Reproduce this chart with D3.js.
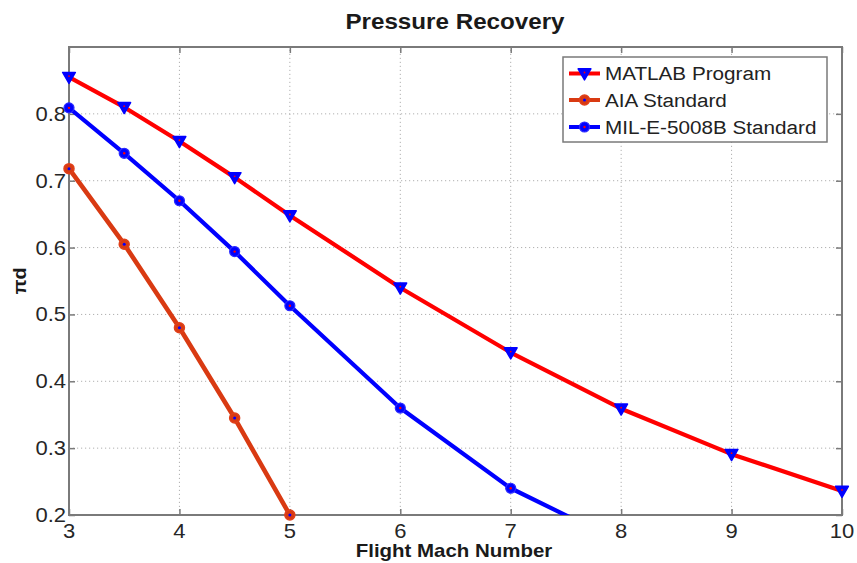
<!DOCTYPE html>
<html>
<head>
<meta charset="utf-8">
<script src="https://cdn.jsdelivr.net/npm/d3@7"></script>
<style>
  html, body { margin: 0; padding: 0; background: #fff; }
  svg { display: block; }
  text { font-family: "Liberation Sans", Arial, sans-serif; fill: #1a1a1a; }
</style>
</head>
<body>
<svg id="chart" width="857" height="563"></svg>
<script>
// Flight Mach numbers and total-pressure recovery for each method
const machMatlab = [3, 3.5, 4, 4.5, 5, 6, 7, 8, 9, 10];
const pdMatlab   = [0.855, 0.810, 0.759, 0.705, 0.648, 0.540, 0.443, 0.359, 0.291, 0.236];

const machAIA = [3, 3.5, 4, 4.5, 5];
const pdAIA   = [0.718, 0.605, 0.480, 0.345, 0.200];

const machMIL = [3, 3.5, 4, 4.5, 5, 6, 7, 8];
const pdMIL   = [0.809, 0.741, 0.670, 0.594, 0.513, 0.360, 0.240, 0.159];

const xTicks = [3, 4, 5, 6, 7, 8, 9, 10];
const yTicks = [0.2, 0.3, 0.4, 0.5, 0.6, 0.7, 0.8];
const seriesNames = ["MATLAB Program", "AIA Standard", "MIL-E-5008B Standard"];

const svg = d3.select("#chart");
const W = 857, H = 563;
const m = { left: 69, right: 15, top: 47, bottom: 48 };
const x = d3.scaleLinear().domain([3, 10]).range([m.left, W - m.right]);
const y = d3.scaleLinear().domain([0.2, 0.9]).range([H - m.bottom, m.top]);
const SX = 1.1; // horizontal text stretch

function label(g, px, py, str, opts) {
  const t = g.append("text")
    .attr("transform", `translate(${px},${py}) scale(${SX},1)`)
    .text(str);
  for (const k in opts) t.style(k, opts[k]);
  return t;
}

svg.append("rect").attr("width", W).attr("height", H).attr("fill", "#fff");

const [x0, x1] = x.range();
const [y0, y1] = y.range(); // y0 bottom, y1 top

// dotted grid
const grid = svg.append("g").attr("stroke", "#b0b0b0").attr("stroke-width", 1)
  .attr("stroke-dasharray", "1.2,2.8");
xTicks.filter(v => v > 3 && v < 10).forEach(v =>
  grid.append("line").attr("x1", x(v)).attr("x2", x(v)).attr("y1", y0).attr("y2", y1));
yTicks.filter(v => v > 0.2).forEach(v =>
  grid.append("line").attr("y1", y(v)).attr("y2", y(v)).attr("x1", x0).attr("x2", x1));

// axes with inward ticks on all four sides
const tickLen = 6;
const axBottom = svg.append("g").attr("transform", `translate(0,${y0})`)
  .call(d3.axisBottom(x).tickValues(xTicks).tickSize(-tickLen).tickFormat(d3.format("d")));
const axTop = svg.append("g").attr("transform", `translate(0,${y1})`)
  .call(d3.axisTop(x).tickValues(xTicks).tickSize(-tickLen).tickFormat(""));
const axLeft = svg.append("g").attr("transform", `translate(${x0},0)`)
  .call(d3.axisLeft(y).tickValues(yTicks).tickSize(-tickLen).tickFormat(d3.format(".1f")));
const axRight = svg.append("g").attr("transform", `translate(${x1},0)`)
  .call(d3.axisRight(y).tickValues(yTicks).tickSize(-tickLen).tickFormat(""));

[axBottom, axTop, axLeft, axRight].forEach(a => {
  a.select(".domain").remove();
  a.selectAll(".tick line").attr("stroke", "#7a7a7a").attr("stroke-width", 1.5);
  a.selectAll(".tick text").remove();
});

// tick labels drawn from the same scales
const tl = svg.append("g");
xTicks.forEach(v => label(tl, x(v), y0 + 22.5, d3.format("d")(v),
  { "font-size": "20px", "text-anchor": "middle", "fill": "#262626" }));
yTicks.forEach(v => label(tl, x0 - 3, y(v) + 7, d3.format(".1f")(v),
  { "font-size": "20px", "text-anchor": "end", "fill": "#262626" }));

// axes box
svg.append("rect").attr("x", x0).attr("y", y1).attr("width", x1 - x0).attr("height", y0 - y1)
  .attr("fill", "none").attr("stroke", "#7a7a7a").attr("stroke-width", 2);

// clip region for the data lines
svg.append("defs").append("clipPath").attr("id", "plotclip")
  .append("rect").attr("x", x0).attr("y", y1).attr("width", x1 - x0).attr("height", y0 - y1);

const line = d3.line().x(d => x(d[0])).y(d => y(d[1]));
const zip = (a, b) => a.map((v, i) => [v, b[i]]);

const dataMatlab = zip(machMatlab, pdMatlab);
const dataAIA = zip(machAIA, pdAIA);
const dataMIL = zip(machMIL, pdMIL);

const RED = "#ff0000", BLUE = "#0000ff", ORANGE = "#d93a12";

const lines = svg.append("g").attr("clip-path", "url(#plotclip)").attr("fill", "none")
  .attr("stroke-linejoin", "round").attr("stroke-linecap", "round");
lines.append("path").datum(dataMatlab).attr("d", line).attr("stroke", RED).attr("stroke-width", 4.2);
lines.append("path").datum(dataAIA).attr("d", line).attr("stroke", ORANGE).attr("stroke-width", 4.6);
lines.append("path").datum(dataMIL).attr("d", line).attr("stroke", BLUE).attr("stroke-width", 4.2);

const inside = d => d[0] >= 3 && d[0] <= 10 && d[1] >= 0.2 && d[1] <= 0.9;

// marker drawers
const tri = d3.symbol().type(d3.symbolTriangle).size(70);
function triMarker(g, cx, cy) {
  g.append("path").attr("d", tri()).attr("transform", `translate(${cx},${cy}) rotate(180)`)
    .attr("fill", BLUE).attr("stroke", BLUE).attr("stroke-width", 1.5).attr("stroke-linejoin", "round");
  g.append("circle").attr("cx", cx).attr("cy", cy).attr("r", 0.9).attr("fill", RED);
}
function aiaMarker(g, cx, cy) {
  g.append("circle").attr("cx", cx).attr("cy", cy).attr("r", 5).attr("fill", ORANGE)
    .attr("stroke", "#e0401a").attr("stroke-width", 1.5);
  g.append("circle").attr("cx", cx).attr("cy", cy).attr("r", 1.5).attr("fill", BLUE);
}
function milMarker(g, cx, cy) {
  g.append("circle").attr("cx", cx).attr("cy", cy).attr("r", 5).attr("fill", BLUE)
    .attr("stroke", "#2a2aff").attr("stroke-width", 1.2);
  g.append("circle").attr("cx", cx).attr("cy", cy).attr("r", 1.2).attr("fill", RED);
}

const mk = svg.append("g");
dataMatlab.filter(inside).forEach(d => triMarker(mk, x(d[0]), y(d[1]) - 1));
dataAIA.filter(inside).forEach(d => aiaMarker(mk, x(d[0]), y(d[1])));
dataMIL.filter(inside).forEach(d => milMarker(mk, x(d[0]), y(d[1])));

// legend
const lg = svg.append("g");
const lx = 563, ly = 57, lw = 264, lh = 85;
lg.append("rect").attr("x", lx).attr("y", ly).attr("width", lw).attr("height", lh)
  .attr("fill", "#fff").attr("stroke", "#7a7a7a").attr("stroke-width", 1.5);
const rowY = [73.5, 100, 127];
const colors = [RED, ORANGE, BLUE];
const markers = [triMarker, aiaMarker, milMarker];
seriesNames.forEach((name, i) => {
  lg.append("line").attr("x1", lx + 6).attr("x2", lx + 37).attr("y1", rowY[i]).attr("y2", rowY[i])
    .attr("stroke", colors[i]).attr("stroke-width", 4);
  markers[i](lg, lx + 21.5, rowY[i] - (i === 0 ? 1 : 0));
  label(lg, lx + 42, rowY[i] + 6.8, name, { "font-size": "18.8px", "fill": "#222" });
});

// title and axis labels
label(svg, 455, 29, "Pressure Recovery", { "font-size": "22px", "font-weight": "bold", "text-anchor": "middle" });
label(svg, 454, 557, "Flight Mach Number", { "font-size": "18.6px", "font-weight": "bold", "text-anchor": "middle" });
svg.append("text")
  .attr("transform", `translate(26,${(y0 + y1) / 2}) rotate(-90) scale(${SX},1)`)
  .attr("text-anchor", "middle")
  .style("font-size", "18px").style("font-weight", "bold")
  .text("πd");
</script>
</body>
</html>
